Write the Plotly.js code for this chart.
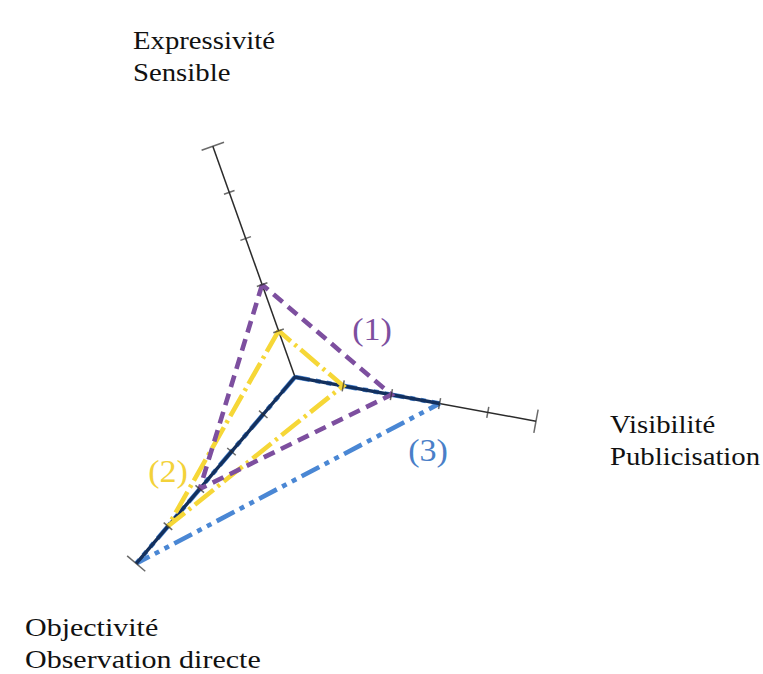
<!DOCTYPE html>
<html>
<head>
<meta charset="utf-8">
<script src="https://cdn.plot.ly/plotly-3.0.1.min.js"></script>
<style>
  html, body { margin: 0; padding: 0; background: #ffffff; }
  #chart { width: 763px; height: 674px; }
  .annotation text { transform-box: fill-box; }
  .annotation[data-index="0"] text,
  .annotation[data-index="1"] text { transform-origin: left center; transform: scaleX(1.15); }
  .annotation[data-index="2"] text { transform-origin: left center; transform: scaleX(1.2); }
  .annotation[data-index="3"] text,
  .annotation[data-index="4"] text,
  .annotation[data-index="5"] text { transform-origin: center center; transform: scaleX(1.1); }
</style>
</head>
<body>
<div id="chart"></div>
<script>
// Axes, in counterclockwise order starting from the upper axis
const categories = ['Expressivité', 'Objectivité', 'Visibilité'];
const axisLabels = ['Expressivité<br>Sensible', 'Objectivité<br>Observation directe', 'Visibilité<br>Publicisation'];

// Series values (scale 0..5) for [Expressivité, Objectivité, Visibilité]
const series1 = [2, 3, 2];   // (1) purple
const series2 = [1, 4, 1];   // (2) yellow
const series3 = [0, 5, 3];   // (3) blue
const seriesNames = ['(1)', '(2)', '(3)'];

// Axis scale
const tickValues = [1, 2, 3, 4];
const axisMax = 5;

const ROT = 109.6;
const purple = '#7d4f9f', yellow = '#f6d737', blue = '#4a87d4', navy = '#13305e', axisCol = '#2b2b2b';

function closed(a) { return a.concat([a[0]]); }

// tick marks along each spoke (crossing marks), plus end caps
const tickR = [], tickT = [], tickA = [], tickS = [];
categories.forEach((c, i) => {
  const phi = ROT + i * 120;
  tickValues.concat([axisMax]).forEach(v => {
    tickR.push(v); tickT.push(c); tickA.push(-phi);
    tickS.push(v === axisMax ? 17 : 8);
  });
});

const traces = [
  { type: 'scatterpolar', mode: 'lines', r: closed(series3), theta: closed(categories),
    line: { color: blue, width: 4.6, dash: '20px,6px,5px,6px,5px,6px' }, name: seriesNames[2] },
  { type: 'scatterpolar', mode: 'lines',
    r: [series3[2], series3[0], series3[1]], theta: [categories[2], categories[0], categories[1]],
    line: { color: navy, width: 3.4 }, name: seriesNames[2] + ' axes' },
  { type: 'scatterpolar', mode: 'lines', r: closed(series2), theta: closed(categories),
    line: { color: yellow, width: 4.6, dash: '24px,5px,3px,5px' }, name: seriesNames[1] },
  { type: 'scatterpolar', mode: 'lines', r: closed(series1), theta: closed(categories),
    line: { color: purple, width: 4.6, dash: '12px,7px' }, name: seriesNames[0] },
  { type: 'scatterpolar', mode: 'markers', r: tickR, theta: tickT,
    marker: { symbol: 'line-ns', size: tickS, angle: tickA, color: axisCol,
              line: { color: axisCol, width: 1.5 } }, name: 'ticks' }
];

const serif = 'Liberation Serif, Times New Roman, serif';
const W = 763, H = 674;
const layout = {
  width: W, height: H,
  margin: { l: 0, r: 0, t: 0, b: 0 },
  paper_bgcolor: '#ffffff',
  showlegend: false,
  polar: {
    domain: { x: [50 / W, 540 / W], y: [52 / H, 542 / H] },
    bgcolor: 'rgba(0,0,0,0)',
    angularaxis: {
      type: 'category', categoryorder: 'array', categoryarray: categories,
      rotation: ROT, direction: 'counterclockwise',
      showgrid: true, gridcolor: axisCol, gridwidth: 1.5,
      showline: false, ticks: '', showticklabels: false
    },
    radialaxis: {
      range: [0, axisMax], showgrid: false, showline: false,
      ticks: '', showticklabels: false
    }
  },
  annotations: [
    { text: axisLabels[0], x: 131 / W, y: 1 - 57 / H, xref: 'paper', yref: 'paper',
      xanchor: 'left', yanchor: 'middle', align: 'left', showarrow: false,
      font: { family: serif, size: 25, color: '#111' } },
    { text: axisLabels[2], x: 608 / W, y: 1 - 441 / H, xref: 'paper', yref: 'paper',
      xanchor: 'left', yanchor: 'middle', align: 'left', showarrow: false,
      font: { family: serif, size: 25, color: '#111' } },
    { text: axisLabels[1], x: 23 / W, y: 1 - 644 / H, xref: 'paper', yref: 'paper',
      xanchor: 'left', yanchor: 'middle', align: 'left', showarrow: false,
      font: { family: serif, size: 25, color: '#111' } },
    { text: seriesNames[0], x: 372 / W, y: 1 - 330 / H, xref: 'paper', yref: 'paper',
      xanchor: 'center', yanchor: 'middle', showarrow: false,
      font: { family: serif, size: 31, color: purple } },
    { text: seriesNames[1], x: 168 / W, y: 1 - 471 / H, xref: 'paper', yref: 'paper',
      xanchor: 'center', yanchor: 'middle', showarrow: false,
      font: { family: serif, size: 31, color: '#f3d23a' } },
    { text: seriesNames[2], x: 428 / W, y: 1 - 451 / H, xref: 'paper', yref: 'paper',
      xanchor: 'center', yanchor: 'middle', showarrow: false,
      font: { family: serif, size: 31, color: '#4a7fc8' } }
  ]
};

Plotly.newPlot('chart', traces, layout, { displayModeBar: false, staticPlot: true });
</script>
</body>
</html>
